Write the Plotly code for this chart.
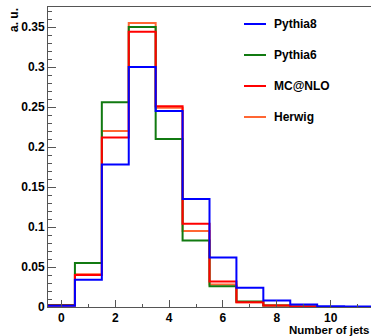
import plotly.graph_objects as go

# Data
n_jets = [0, 1, 2, 3, 4, 5, 6, 7, 8, 9, 10, 11]
pythia8 = [0.0015, 0.034, 0.178, 0.300, 0.245, 0.135, 0.062, 0.024, 0.008, 0.003, 0.001, 0.0005]
pythia6 = [0.0025, 0.055, 0.256, 0.350, 0.210, 0.083, 0.026, 0.007, 0.002, 0.0005, 0.0001, 0.0]
mcatnlo = [0.002, 0.040, 0.212, 0.344, 0.251, 0.104, 0.032, 0.006, 0.002, 0.0005, 0.0001, 0.0]
herwig = [0.002, 0.041, 0.220, 0.355, 0.249, 0.095, 0.028, 0.006, 0.002, 0.0005, 0.0001, 0.0]

series = [
    ("Pythia8", pythia8, "#0000ff"),
    ("Pythia6", pythia6, "#117a11"),
    ("MC@NLO", mcatnlo, "#ff0000"),
    ("Herwig", herwig, "#ff6633"),
]

W, H = 371, 336
L, R, T, B = 48, 0, 7, 29
PW, PH = W - L - R, H - T - B

def px(x):
    return (x - L) / PW

def py(y):
    return (H - B - y) / PH

FONT = "Liberation Sans, Arial, sans-serif"

fig = go.Figure()

edges = [c - 0.5 for c in n_jets] + [n_jets[-1] + 0.5]
draw_order = [3, 1, 2, 0]  # Herwig, Pythia6, MC@NLO, Pythia8 on top
for i in draw_order:
    name, vals, col = series[i]
    fig.add_trace(go.Scatter(
        x=edges, y=list(vals) + [vals[-1]],
        mode="lines", line=dict(color=col, width=2, shape="hv"),
        name=name, showlegend=False, hoverinfo="skip", cliponaxis=True,
    ))

# manual legend
shapes = []
annotations = []
leg_y = [24, 55, 86, 117]
for (name, vals, col), yy in zip(series, leg_y):
    shapes.append(dict(type="line", xref="paper", yref="paper",
                       x0=px(244), x1=px(266), y0=py(yy), y1=py(yy),
                       line=dict(color=col, width=2)))
    annotations.append(dict(xref="paper", yref="paper", x=px(272), y=py(yy),
                            text=name, showarrow=False, xanchor="left", yanchor="middle",
                            font=dict(family=FONT, size=12, color="black", weight="bold")))

annotations.append(dict(xref="paper", yref="paper", x=px(14), y=py(6),
                        text="a. u.", showarrow=False, textangle=-90,
                        xanchor="center", yanchor="top",
                        font=dict(family=FONT, size=12, color="black", weight="bold")))
annotations.append(dict(xref="paper", yref="paper", x=px(371), y=py(336.5),
                        text="Number of jets", showarrow=False,
                        xanchor="right", yanchor="bottom", borderpad=0,
                        font=dict(family=FONT, size=11.5, color="black", weight="bold")))

fig.update_layout(
    width=W, height=H,
    margin=dict(l=L, r=R, t=T, b=B, pad=0),
    paper_bgcolor="white", plot_bgcolor="white",
    showlegend=False,
    shapes=shapes, annotations=annotations,
    xaxis=dict(range=[-0.5, 11.5], tickmode="linear", tick0=0, dtick=2,
               ticks="inside", ticklen=7, tickcolor="#555", tickwidth=1,
               minor=dict(ticks="inside", ticklen=3, dtick=1, tick0=0, tickcolor="#555"),
               showline=True, linecolor="#555", linewidth=1, mirror=True,
               showgrid=False, zeroline=False,
               tickfont=dict(family=FONT, size=12, color="black", weight="bold")),
    yaxis=dict(range=[0, 0.375], tickmode="linear", tick0=0, dtick=0.05,
               ticks="inside", ticklen=8, tickcolor="#555", tickwidth=1,
               minor=dict(ticks="inside", ticklen=4, dtick=0.01, tick0=0, tickcolor="#555"),
               showline=True, linecolor="#555", linewidth=1, mirror=False,
               showgrid=False, zeroline=False,
               tickfont=dict(family=FONT, size=12, color="black", weight="bold")),
)

fig.write_html("out.html")
